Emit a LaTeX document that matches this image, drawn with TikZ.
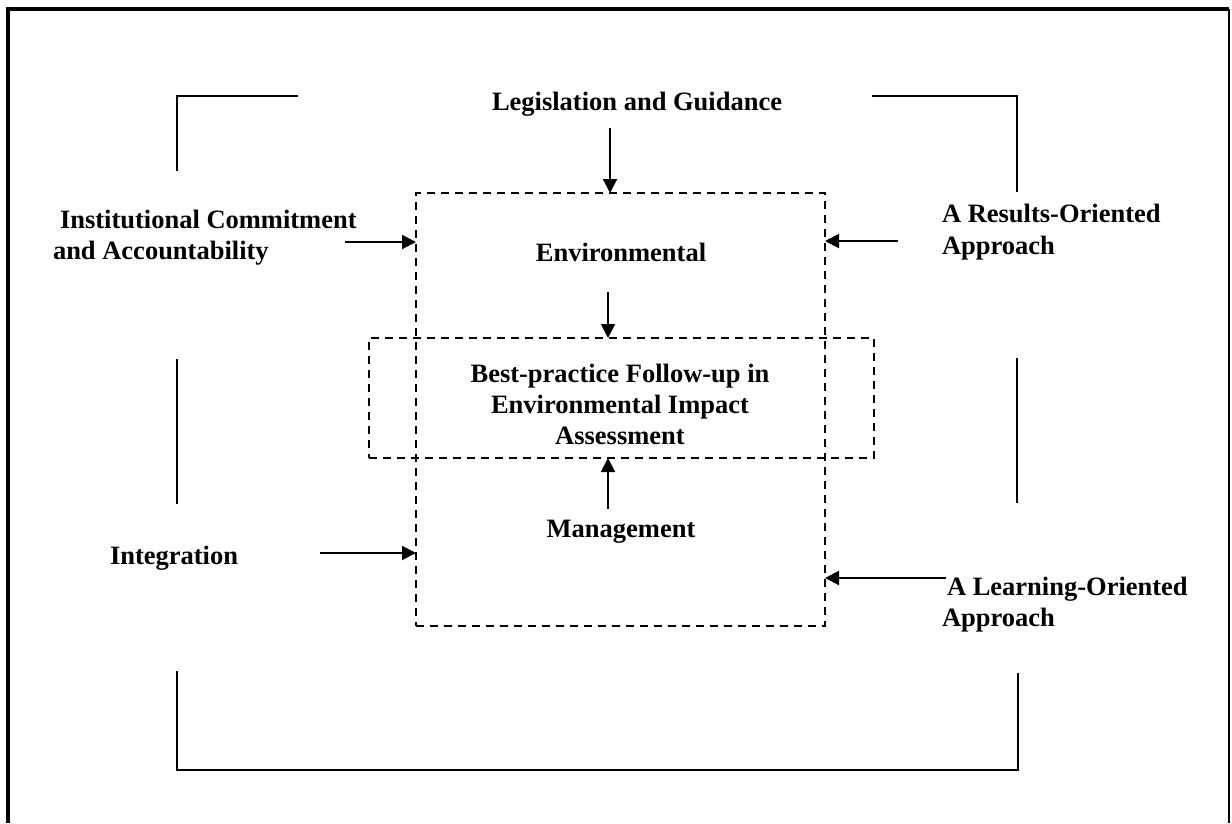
\documentclass[tikz,border=0pt]{standalone}
\usepackage{fontspec}
\setmainfont{Liberation Serif}
\usetikzlibrary{arrows.meta}
\begin{document}
\begin{tikzpicture}[x=1pt,y=-1pt,
  lbl/.style={font=\fontsize{26.5}{31}\selectfont\bfseries, inner sep=0pt, outer sep=0pt},
  dbox/.style={draw, dash pattern=on 8pt off 6pt, line width=2pt, inner sep=0pt, outer sep=0pt},
  arr/.style={line width=2pt, -{Triangle[length=14pt,width=14pt]}},
  brk/.style={line width=1.8pt},
]
\useasboundingbox (0,0) rectangle (1232,823);

% outer frame
\draw[line width=3.5pt] (8,823) -- (8,9) -- (1229,9);
\draw[line width=2pt] (1229,9) -- (1229,823);

% bracket lines
\draw[brk] (298,96) -- (177,96) -- (177,171);
\draw[brk] (872,96) -- (1017,96) -- (1017,192);
\draw[brk] (177,359) -- (177,504);
\draw[brk] (1017,358) -- (1017,503);
\draw[brk] (177,671) -- (177,770) -- (1018,770) -- (1018,673);

% dashed boxes
\node[dbox, minimum width=409pt, minimum height=433pt, anchor=north west] (tall) at (416,193) {};
\node[dbox, minimum width=505pt, minimum height=120pt, anchor=north west] (wide) at (369,338) {};

% labels
\node[lbl, anchor=base west] (leg) at (492,110) {Legislation and Guidance};
\node[lbl, anchor=base west] (inst1) at (60,228) {Institutional Commitment};
\node[lbl, anchor=base west] (inst2) at (53,259) {and Accountability};
\node[lbl, anchor=base west] (res1) at (942,222) {A Results-Oriented};
\node[lbl, anchor=base west] (res2) at (942,254) {Approach};
\node[lbl, anchor=base] (env) at (621,261) {Environmental};
\node[lbl, anchor=base] (bp1) at (620,382) {Best-practice Follow-up in};
\node[lbl, anchor=base] (bp2) at (620,413) {Environmental Impact};
\node[lbl, anchor=base] (bp3) at (620,444) {Assessment};
\node[lbl, anchor=base] (mgmt) at (621,537) {Management};
\node[lbl, anchor=base west] (integ) at (110,564) {Integration};
\node[lbl, anchor=base west] (learn1) at (947,595) {A Learning-Oriented};
\node[lbl, anchor=base west] (learn2) at (942,626) {Approach};

% arrows
\coordinate (legS) at (610,128);
\coordinate (envS) at (608,292);
\coordinate (mgS) at (608,509);
\coordinate (instS) at (345,242);
\coordinate (integS) at (320,553);
\coordinate (resS) at (898,241);
\coordinate (learnS) at (946,578);
\draw[arr] (legS) -- (legS |- tall.north);
\draw[arr] (envS) -- (envS |- wide.north);
\draw[arr] (mgS) -- (mgS |- wide.south);
\draw[arr] (instS) -- (instS -| tall.west);
\draw[arr] (integS) -- (integS -| tall.west);
\draw[arr] (resS) -- (resS -| tall.east);
\draw[arr] (learnS) -- (learnS -| tall.east);
\end{tikzpicture}
\end{document}
